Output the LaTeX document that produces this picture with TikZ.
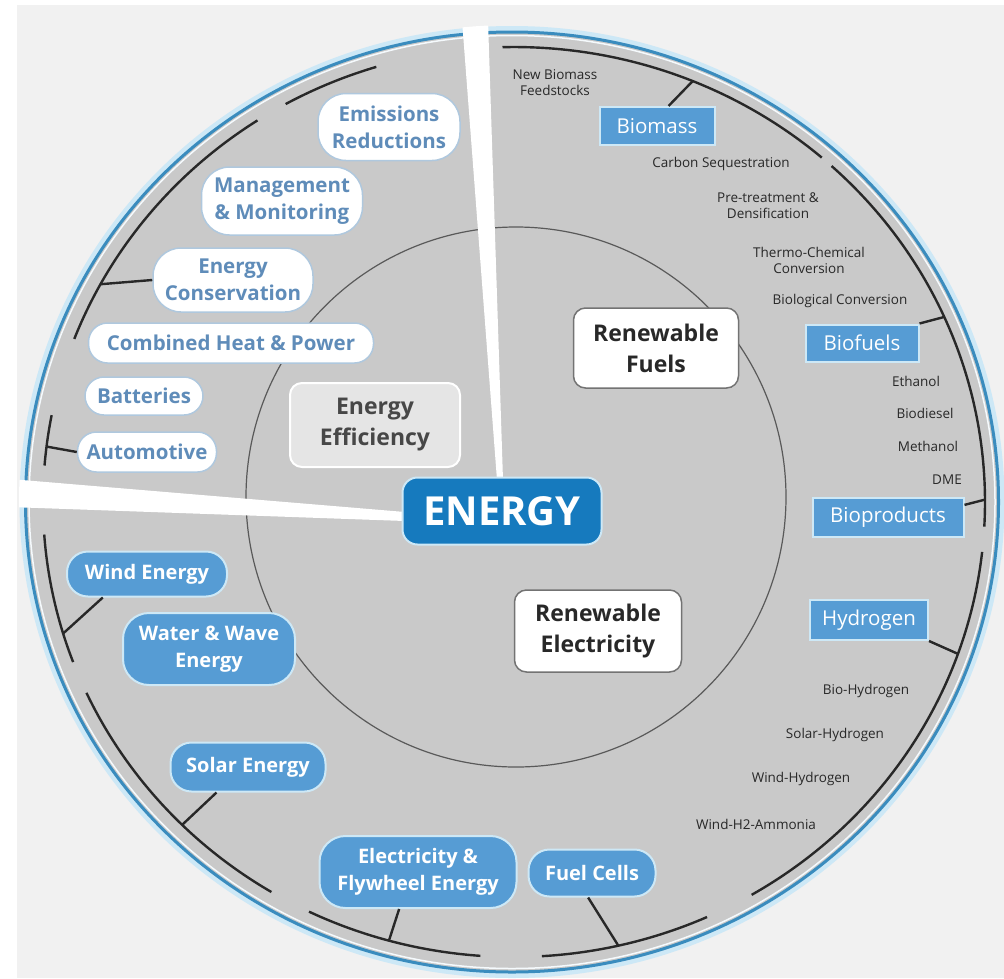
\documentclass[tikz,border=0pt]{standalone}
\usepackage{fontspec}
\setmainfont{Open Sans}
\usepackage{xcolor}
\usepackage{tikz}
\usetikzlibrary{calc}
\definecolor{pagegray}{RGB}{241,241,241}
\definecolor{ringgray}{RGB}{201,201,201}
\definecolor{rimblue}{RGB}{58,140,190}
\definecolor{halo}{RGB}{205,232,246}
\definecolor{coreblue}{RGB}{22,122,190}
\definecolor{tileblue}{RGB}{86,156,212}
\definecolor{steel}{RGB}{95,140,185}
\definecolor{pillrim}{RGB}{175,200,222}
\definecolor{inkgray}{RGB}{40,40,40}
\tikzset{
  dims/.style 2 args={minimum width=#1, minimum height=#2, inner sep=0pt, align=center},
  core/.style={draw=halo, line width=2, fill=coreblue, rounded corners=15, text=white,
               font=\fontsize{40}{44}\selectfont\bfseries},
  sector/.style={draw=black!55, line width=1.5, fill=white, rounded corners=12, text=inkgray,
                 font=\fontsize{23}{31}\selectfont\bfseries},
  sectordim/.style={sector, draw=white, line width=2, fill=black!10, text=black!72},
  effpill/.style={draw=pillrim, line width=1.5, fill=white, rounded corners=19, text=steel,
                  font=\fontsize{20.5}{27}\selectfont\bfseries},
  genpill/.style={draw=halo, line width=2, fill=tileblue, rounded corners=21, text=white,
                  font=\fontsize{20}{27}\selectfont\bfseries},
  fueltile/.style={draw=halo, line width=2, fill=tileblue, text=white,
                   font=\fontsize{20.5}{24}\selectfont},
  smalltxt/.style={inner sep=0pt, align=center, text=inkgray, font=\fontsize{13.5}{16}\selectfont},
  bracket/.style={line width=2.4, inkgray},
  spoke/.style={line width=2.4, inkgray}
}
\begin{document}
\begin{tikzpicture}[x=1pt, y=-1pt]
\useasboundingbox (0,0) rectangle (1004,978);
\fill[white] (0,0) rectangle (1004,978);
\fill[pagegray] (17,5) rectangle (1004,978);
\coordinate (rim) at (512,502);
\coordinate (hub) at (514,502);
\coordinate (mid) at (516,497);
% rings
\draw[halo, line width=9] (rim) ellipse [x radius=488, y radius=471.5];
\fill[ringgray] (rim) ellipse [x radius=486.5, y radius=470];
\draw[rimblue, line width=3] (rim) ellipse [x radius=486.5, y radius=470];
\draw[white!80!halo, line width=1.5] (rim) ellipse [x radius=483, y radius=466.5];
\draw[black!65, line width=1.2] (mid) circle [radius=270];
\begin{scope}
  \clip (rim) ellipse [x radius=493, y radius=477];
  \fill[white] (462,20) -- (488,20) -- (503,480) -- (497,480) -- cycle;
  \fill[white] (10,479) -- (10,507) -- (405,521) -- (405,512) -- cycle;
\end{scope}

\node[core, dims={199}{67}] (energy) at (502,511) {ENERGY};
\node[sectordim, dims={170}{84}] (eff) at (375,425) {Energy\\Efficiency};
\node[sector, dims={165}{80}] (rfuel) at (656,348) {Renewable\\Fuels};
\node[sector, dims={167}{82}] (relec) at (598,631) {Renewable\\Electricity};

\node[effpill, dims={142}{67}, rounded corners=28] (emis) at (389,127) {Emissions\\Reductions};
\node[effpill, dims={161}{68}, rounded corners=28] (mgmt) at (282,201) {Management\\\& Monitoring};
\node[effpill, dims={160}{64}, rounded corners=28] (cons) at (233,280) {Energy\\Conservation};
\node[effpill, dims={285}{40}] (chp) at (231,343) {Combined Heat \& Power};
\node[effpill, dims={118}{38}] (batt) at (144,396) {Batteries};
\node[effpill, dims={139}{40}] (auto) at (147,452) {Automotive};

\node[genpill, dims={160}{45}] (wind) at (147,574) {Wind Energy};
\node[genpill, dims={172}{72}, rounded corners=26] (water) at (209,649) {Water \& Wave\\Energy};
\node[genpill, dims={155}{49}] (solar) at (248,767) {Solar Energy};
\node[genpill, dims={197}{72}, rounded corners=26] (elec) at (418,872) {Electricity \&\\Flywheel Energy};
\node[genpill, dims={127}{47}] (fcell) at (592,873) {Fuel Cells};

\node[fueltile, dims={115}{38}] (biomass) at (657,126) {Biomass};
\node[fueltile, dims={113}{37}] (biofuels) at (862,343) {Biofuels};
\node[fueltile, dims={151}{39}] (bioprod) at (888,517) {Bioproducts};
\node[fueltile, dims={118}{40}] (hydro) at (869,620) {Hydrogen};

\node[smalltxt] (feed) at (555,83) {New Biomass\\Feedstocks};
\node[smalltxt] (carbon) at (721,164) {Carbon Sequestration};
\node[smalltxt] (pretreat) at (768,206) {Pre-treatment \&\\Densification};
\node[smalltxt] (thermo) at (809,260) {Thermo-Chemical\\Conversion};
\node[smalltxt] (biolog) at (840,301) {Biological Conversion};
\node[smalltxt] (ethanol) at (916,381) {Ethanol};
\node[smalltxt] (biodiesel) at (925,413) {Biodiesel};
\node[smalltxt] (methanol) at (928,446) {Methanol};
\node[smalltxt] (dme) at (947,480) {DME};
\node[smalltxt] (bioh) at (866,691) {Bio-Hydrogen};
\node[smalltxt] (solarh) at (835,735) {Solar-Hydrogen};
\node[smalltxt] (windh) at (801,779) {Wind-Hydrogen};
\node[smalltxt] (ammonia) at (756,824) {Wind-H2-Ammonia};

% brackets
\draw[bracket] ($(hub)+(-119:471 and 455)$) arc[start angle=-119, end angle=-107, x radius=471, y radius=455];
\draw[bracket] ($(hub)+(-123:471 and 455)$) arc[start angle=-123, end angle=-159, x radius=471, y radius=455];
\draw[bracket] ($(hub)+(-169:471 and 455)$) arc[start angle=-169, end angle=-175.4, x radius=471, y radius=455];
\draw[bracket] ($(hub)+(175.9:471 and 455)$) arc[start angle=175.9, end angle=159.4, x radius=471, y radius=455];
\draw[bracket] ($(hub)+(155.2:471 and 455)$) arc[start angle=155.2, end angle=121, x radius=471, y radius=455];
\draw[bracket] ($(hub)+(115.8:471 and 455)$) arc[start angle=115.8, end angle=94.1, x radius=471, y radius=455];
\draw[bracket] ($(hub)+(86.6:471 and 455)$) arc[start angle=86.6, end angle=65.8, x radius=471, y radius=455];
\draw[bracket] ($(hub)+(59.7:471 and 455)$) arc[start angle=59.7, end angle=6.3, x radius=471, y radius=455];
\draw[bracket] ($(hub)+(3.1:471 and 455)$) arc[start angle=3.1, end angle=-47.6, x radius=471, y radius=455];
\draw[bracket] ($(hub)+(-49.2:471 and 455)$) arc[start angle=-49.2, end angle=-91.4, x radius=471, y radius=455];

\coordinate (kCons) at ($(hub)+(-151.4:471 and 455)$);
\coordinate (kAuto) at ($(hub)+(-173:471 and 455)$);
\coordinate (kWind) at ($(hub)+(163.2:471 and 455)$);
\coordinate (kSolar) at ($(hub)+(134.8:471 and 455)$);
\coordinate (kElec) at ($(hub)+(105.4:471 and 455)$);
\coordinate (kFcell) at ($(hub)+(77.2:471 and 455)$);
\coordinate (kHydro) at ($(hub)+(19.5:471 and 455)$);
\coordinate (kBioprod) at ($(hub)+(-0.3:471 and 455)$);
\coordinate (kBiofuels) at ($(hub)+(-24:471 and 455)$);
\coordinate (kBiomass) at ($(hub)+(-67.7:471 and 455)$);
\draw[spoke] (kCons) -- (cons.west);
\draw[spoke] (kAuto) -- (auto.west);
\draw[spoke] (kWind) -- (wind.208);
\draw[spoke] (kSolar) -- (solar.219);
\draw[spoke] (kElec) -- (elec.243);
\draw[spoke] (kFcell) -- (fcell.261);
\draw[spoke] (kHydro) -- (hydro.south east);
\draw[spoke] (kBioprod) -- (bioprod.9);
\draw[spoke] (kBiofuels) -- (biofuels.north east);
\draw[spoke] (kBiomass) -- (biomass.60);
\end{tikzpicture}
\end{document}
